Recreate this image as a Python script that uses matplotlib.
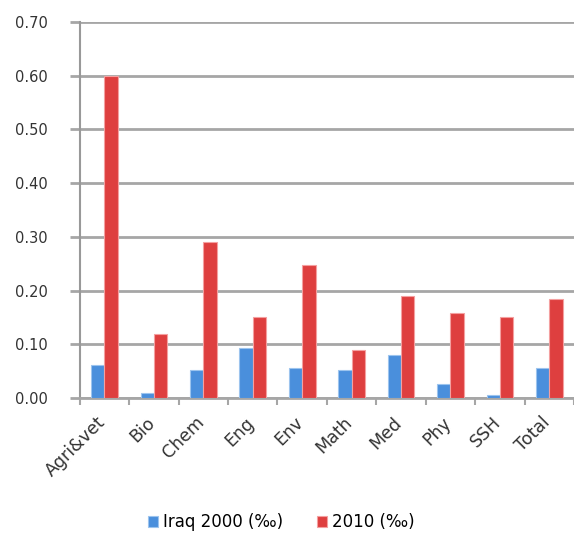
import numpy as np
import matplotlib.pyplot as plt
import matplotlib.transforms as mtransforms
from matplotlib.ticker import FixedLocator, FormatStrFormatter

fields = ["Agri&vet", "Bio", "Chem", "Eng", "Env", "Math", "Med", "Phy", "SSH", "Total"]
iraq_2000 = [0.061, 0.010, 0.052, 0.093, 0.055, 0.053, 0.080, 0.026, 0.005, 0.056]
iraq_2010 = [0.600, 0.119, 0.290, 0.151, 0.248, 0.089, 0.190, 0.158, 0.151, 0.184]

fig = plt.figure(figsize=(5.74, 5.49), dpi=100)
ax = fig.add_axes([0.139, 0.275, 0.861, 0.685])

x = np.arange(len(fields))
w = 0.27
ax.bar(x - w / 2, iraq_2000, w, color="#4a8fdc", edgecolor="#9cc4ee", linewidth=0.8,
       label="Iraq 2000 (‰)", zorder=3)
ax.bar(x + w / 2, iraq_2010, w, color="#de3f3f", edgecolor="#f4a0a0", linewidth=0.8,
       label="2010 (‰)", zorder=3)

ax.set_xlim(-0.5, len(fields) - 0.5)
ax.set_ylim(0, 0.70)
ax.set_yticks(np.arange(0, 0.71, 0.10))
ax.yaxis.set_major_formatter(FormatStrFormatter("%.2f"))
ax.yaxis.grid(True, color="#a6a6a6", linewidth=2, zorder=0)

ax.set_xticks(x)
ax.set_xticklabels(fields, rotation=45, ha="right", rotation_mode="anchor", fontsize=12.5,
                   color="#333333")
ax.tick_params(axis="x", which="major", length=0, pad=9)
# nudge the slanted labels a little left and down
shift = mtransforms.ScaledTranslation(-0.08, -0.03, fig.dpi_scale_trans)
for lbl in ax.get_xticklabels():
    lbl.set_transform(lbl.get_transform() + shift)
ax.xaxis.set_minor_locator(FixedLocator(np.arange(-0.5, len(fields), 1.0)))
ax.tick_params(axis="x", which="minor", length=5, color="#a6a6a6", width=1.5)
ax.tick_params(axis="y", length=7, color="#a6a6a6", width=2, labelsize=10.5,
               labelcolor="#333333", pad=16)

for side in ["top", "right"]:
    ax.spines[side].set_visible(False)
ax.spines["left"].set_color("#999999")
ax.spines["left"].set_linewidth(1.5)
ax.spines["bottom"].set_color("#a6a6a6")
ax.spines["bottom"].set_linewidth(2)

fig.legend(loc="lower center", bbox_to_anchor=(0.49, 0.005), ncol=2, frameon=False,
           fontsize=12, handlelength=0.6, handleheight=0.6, columnspacing=2.0,
           handletextpad=0.3)

fig.savefig("out.png", dpi=100)
